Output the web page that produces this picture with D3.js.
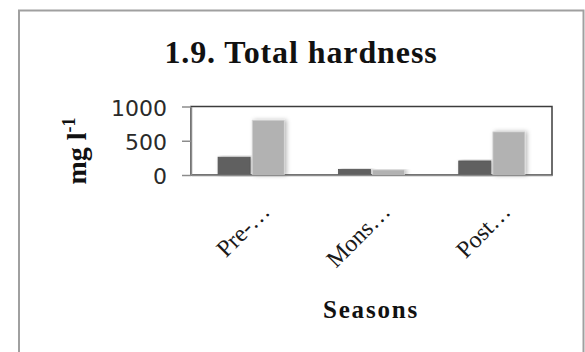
<!DOCTYPE html>
<html>
<head>
<meta charset="utf-8">
<script src="https://cdn.jsdelivr.net/npm/d3@7"></script>
<style>
  html, body { margin: 0; padding: 0; background: #ffffff; }
  svg { display: block; }
</style>
</head>
<body>
<svg id="chart" width="585" height="352"></svg>
<script>
// Seasonal total hardness (mg l-1), two series per season
const seasons = ["Pre-…", "Mons…", "Post…"];
const series1Values = [260, 80, 205];
const series2Values = [800, 75, 630];
const yTicks = [0, 500, 1000];
const seriesColors = ["#606060", "#b2b2b2"];

const svg = d3.select("#chart");
const W = 585, H = 352;

// chart frame
svg.append("rect")
  .attr("x", 19).attr("y", 10.5)
  .attr("width", 564.5).attr("height", H)
  .attr("fill", "#fff")
  .attr("stroke", "#a0a0a0").attr("stroke-width", 2);

const plot = { left: 191, right: 552, top: 106.5, bottom: 175 };

const x = d3.scaleBand()
  .domain(seasons)
  .range([plot.left, plot.right])
  .paddingInner(0.45)
  .paddingOuter(0.225);

const xSub = d3.scaleBand()
  .domain([0, 1])
  .range([0, x.bandwidth()])
  .paddingInner(0.06);

const y = d3.scaleLinear()
  .domain([0, 1000])
  .range([plot.bottom, plot.top]);

// soft shadow behind bars
const defs = svg.append("defs");
const f = defs.append("filter").attr("id", "barShadow")
  .attr("x", "-30%").attr("y", "-10%").attr("width", "160%").attr("height", "120%");
f.append("feDropShadow")
  .attr("dx", 2).attr("dy", 0).attr("stdDeviation", 2)
  .attr("flood-color", "#000").attr("flood-opacity", 0.28);

// plot area border
svg.append("rect")
  .attr("x", plot.left).attr("y", plot.top)
  .attr("width", plot.right - plot.left).attr("height", plot.bottom - plot.top)
  .attr("fill", "none").attr("stroke", "#3c3c3c").attr("stroke-width", 1.5);

// bars
const rows = seasons.map((s, i) => ({ season: s, values: [series1Values[i], series2Values[i]] }));
const groups = svg.append("g").selectAll("g")
  .data(rows).join("g")
  .attr("transform", d => `translate(${x(d.season)},0)`);

groups.selectAll("rect")
  .data(d => d.values.map((v, k) => ({ v, k })))
  .join("rect")
  .attr("x", d => xSub(d.k))
  .attr("width", xSub.bandwidth())
  .attr("y", d => y(d.v))
  .attr("height", d => y(0) - y(d.v))
  .attr("fill", d => seriesColors[d.k])
  .attr("stroke", d => d.k === 0 ? "#555" : "#d6d6d6")
  .attr("stroke-width", 0.8)
  .attr("filter", "url(#barShadow)");

// y axis
const yAxis = d3.axisLeft(y).tickValues(yTicks).tickFormat(d3.format("d"))
  .tickSize(9).tickSizeOuter(0).tickPadding(15);
const gy = svg.append("g").attr("transform", `translate(${plot.left},0)`).call(yAxis);
gy.select(".domain").attr("stroke", "#8c8c8c").attr("stroke-width", 1.5);
gy.selectAll(".tick line").attr("stroke", "#8c8c8c").attr("stroke-width", 1.5);
gy.selectAll(".tick text")
  .attr("font-family", "DejaVu Sans, Verdana, sans-serif")
  .attr("font-size", 22).attr("fill", "#2a2a2a")
  .attr("dy", "0.4em");

// x axis
const xAxis = d3.axisBottom(x).tickSize(0).tickSizeOuter(0);
const gx = svg.append("g").attr("transform", `translate(0,${plot.bottom})`).call(xAxis);
gx.select(".domain").attr("stroke", "#8c8c8c").attr("stroke-width", 1.5);
gx.selectAll(".tick text")
  .attr("font-family", "Liberation Serif, Times New Roman, serif")
  .attr("font-size", 24).attr("fill", "#1a1a1a")
  .attr("text-anchor", "end")
  .attr("dy", 0)
  .attr("transform", "translate(18,36) rotate(-45)");

// title
svg.append("text")
  .attr("x", 301).attr("y", 63)
  .attr("text-anchor", "middle")
  .attr("font-family", "Liberation Serif, Times New Roman, serif")
  .attr("font-weight", "bold").attr("font-size", 32)
  .attr("letter-spacing", 0.9)
  .attr("fill", "#111")
  .text("1.9. Total hardness");

// axis titles
svg.append("text")
  .attr("x", 371).attr("y", 318)
  .attr("text-anchor", "middle")
  .attr("font-family", "Liberation Serif, Times New Roman, serif")
  .attr("font-weight", "bold").attr("font-size", 25)
  .attr("letter-spacing", 1.8)
  .attr("fill", "#111")
  .text("Seasons");

const yt = svg.append("text")
  .attr("transform", "translate(86,151) rotate(-90)")
  .attr("text-anchor", "middle")
  .attr("font-family", "Liberation Serif, Times New Roman, serif")
  .attr("font-weight", "bold").attr("font-size", 28)
  .attr("fill", "#111");
yt.append("tspan").text("mg l");
yt.append("tspan").attr("font-size", 18).attr("dy", -11).text("-1");
</script>
</body>
</html>
